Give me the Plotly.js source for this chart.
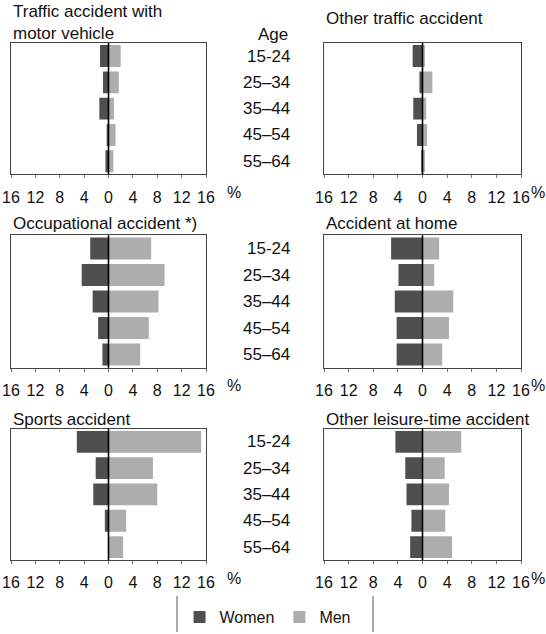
<!DOCTYPE html>
<html>
<head>
<meta charset="utf-8">
<script src="https://cdn.plot.ly/plotly-3.0.1.min.js"></script>
<style>
html,body{margin:0;padding:0;background:#fff}
#chart{width:546px;height:634px}
</style>
</head>
<body>
<div id="chart"></div>
<script>
const ages = ['15-24', '25–34', '35–44', '45–54', '55–64'];
const tickVals = [-16, -12, -8, -4, 0, 4, 8, 12, 16];
const tickText = ['16', '12', '8', '4', '0', '4', '8', '12', '16'];

const womenTrafficMotor = [1.4, 0.9, 1.5, 0.3, 0.5];
const menTrafficMotor = [2.0, 1.7, 0.9, 1.15, 0.8];
const womenOtherTraffic = [1.6, 0.5, 1.5, 0.9, 0.2];
const menOtherTraffic = [0.4, 1.6, 0.6, 0.75, 0.4];
const womenOccupational = [3.0, 4.4, 2.6, 1.7, 1.0];
const menOccupational = [7.0, 9.2, 8.2, 6.6, 5.2];
const womenHome = [5.1, 3.9, 4.5, 4.2, 4.2];
const menHome = [2.7, 1.9, 5.0, 4.3, 3.2];
const womenSports = [5.2, 2.1, 2.5, 0.6, 0.0];
const menSports = [15.2, 7.3, 8.0, 2.9, 2.4];
const womenLeisure = [4.4, 2.8, 2.6, 1.8, 2.0];
const menLeisure = [6.3, 3.6, 4.3, 3.7, 4.8];

const panelTitles = [
  'Traffic accident with<br>motor vehicle',
  'Other traffic accident',
  'Occupational accident *)',
  'Accident at home',
  'Sports accident',
  'Other leisure-time accident'
];
const womenSeries = [womenTrafficMotor, womenOtherTraffic, womenOccupational, womenHome, womenSports, womenLeisure];
const menSeries = [menTrafficMotor, menOtherTraffic, menOccupational, menHome, menSports, menLeisure];

const W = 546, H = 634;
const FONT = '"Liberation Sans", Arial, sans-serif';
const FS = 17;
const WOMEN_COLOR = '#4f4f4f';
const MEN_COLOR = '#adadad';

const colX = [[11, 206], [324, 521]];
const rowY = [[43, 175], [236, 369], [430, 562]];
// visual centre (px) of each title block
const titleCenters = [21, 17, 222, 222, 419, 419];

const px = v => v / W;
const py = v => 1 - v / H;

const data = [];
const layout = {
  width: W, height: H,
  margin: {l: 0, r: 0, t: 0, b: 0},
  paper_bgcolor: '#fff', plot_bgcolor: '#fff',
  barmode: 'relative', bargap: 0.17,
  font: {family: FONT, size: FS, color: '#111'},
  showlegend: true,
  legend: {
    orientation: 'h', x: 0.49, xanchor: 'center', y: py(619), yanchor: 'middle',
    font: {family: FONT, size: 16, color: '#111'}, bgcolor: 'rgba(0,0,0,0)',
    itemclick: false, traceorder: 'normal'
  },
  annotations: [], shapes: []
};

for (let i = 0; i < 6; i++) {
  const c = i % 2, r = Math.floor(i / 2);
  const n = i === 0 ? '' : String(i + 1);
  const xa = 'x' + n, ya = 'y' + n;
  const [x0, x1] = colX[c];
  const [yt, yb] = rowY[r];
  data.push({
    type: 'bar', orientation: 'h', name: 'Women', y: ages,
    x: womenSeries[i].map(v => -v), xaxis: xa, yaxis: ya,
    marker: {color: WOMEN_COLOR, line: {width: 0}}, showlegend: i === 0, legendgroup: 'w'
  });
  data.push({
    type: 'bar', orientation: 'h', name: 'Men', y: ages,
    x: menSeries[i], xaxis: xa, yaxis: ya,
    marker: {color: MEN_COLOR, line: {width: 0}}, showlegend: i === 0, legendgroup: 'm'
  });
  layout['xaxis' + n] = {
    domain: [px(x0), px(x1)], anchor: ya, range: [-16, 16], fixedrange: true,
    tickvals: tickVals, ticktext: tickText, tickfont: {family: FONT, size: 16, color: '#111'},
    ticks: 'outside', ticklen: 3, tickcolor: '#777', ticklabelstandoff: 5,
    showgrid: false, zeroline: false,
    showline: true, mirror: true, linecolor: '#444', linewidth: 1
  };
  layout['yaxis' + n] = {
    domain: [py(yb), py(yt)], anchor: xa, type: 'category', categoryarray: ages,
    range: [4.5, -0.5], fixedrange: true, showticklabels: false, ticks: '',
    showgrid: false, zeroline: false, showline: true, mirror: true, linecolor: '#444', linewidth: 1
  };
  layout.shapes.push({
    type: 'line', xref: xa, yref: ya + ' domain', x0: 0, x1: 0, y0: 0, y1: 1,
    line: {color: '#000', width: 1.6}, layer: 'above'
  });
  layout.annotations.push({
    text: panelTitles[i], xref: 'paper', yref: 'paper', x: px(x0), xanchor: 'left', align: 'left',
    y: py(titleCenters[i] + 2), yanchor: 'middle', showarrow: false,
    font: {family: FONT, size: FS, color: '#111'}
  });
  layout.annotations.push({
    text: '%', xref: 'paper', yref: 'paper',
    x: px(c === 0 ? 234 : 538), xanchor: 'center',
    y: py(yb + 18), yanchor: 'middle', showarrow: false,
    font: {family: FONT, size: 16, color: '#111'}
  });
  if (c === 0) {
    ages.forEach(a => {
      layout.annotations.push({
        text: a, xref: 'paper', yref: ya, x: px(292), xanchor: 'right',
        y: a, yanchor: 'middle', showarrow: false,
        font: {family: FONT, size: FS, color: '#111'}
      });
    });
  }
}
layout.annotations.push({
  text: 'Age', xref: 'paper', yref: 'paper', x: px(273), xanchor: 'center',
  y: py(35), yanchor: 'middle', showarrow: false,
  font: {family: FONT, size: FS, color: '#111'}
});
[177, 373].forEach(xp => {
  layout.shapes.push({
    type: 'line', xref: 'paper', yref: 'paper', x0: px(xp), x1: px(xp), y0: 0, y1: py(598),
    line: {color: '#555', width: 1}
  });
});

Plotly.newPlot('chart', data, layout, {staticPlot: true, displayModeBar: false});
</script>
</body>
</html>
